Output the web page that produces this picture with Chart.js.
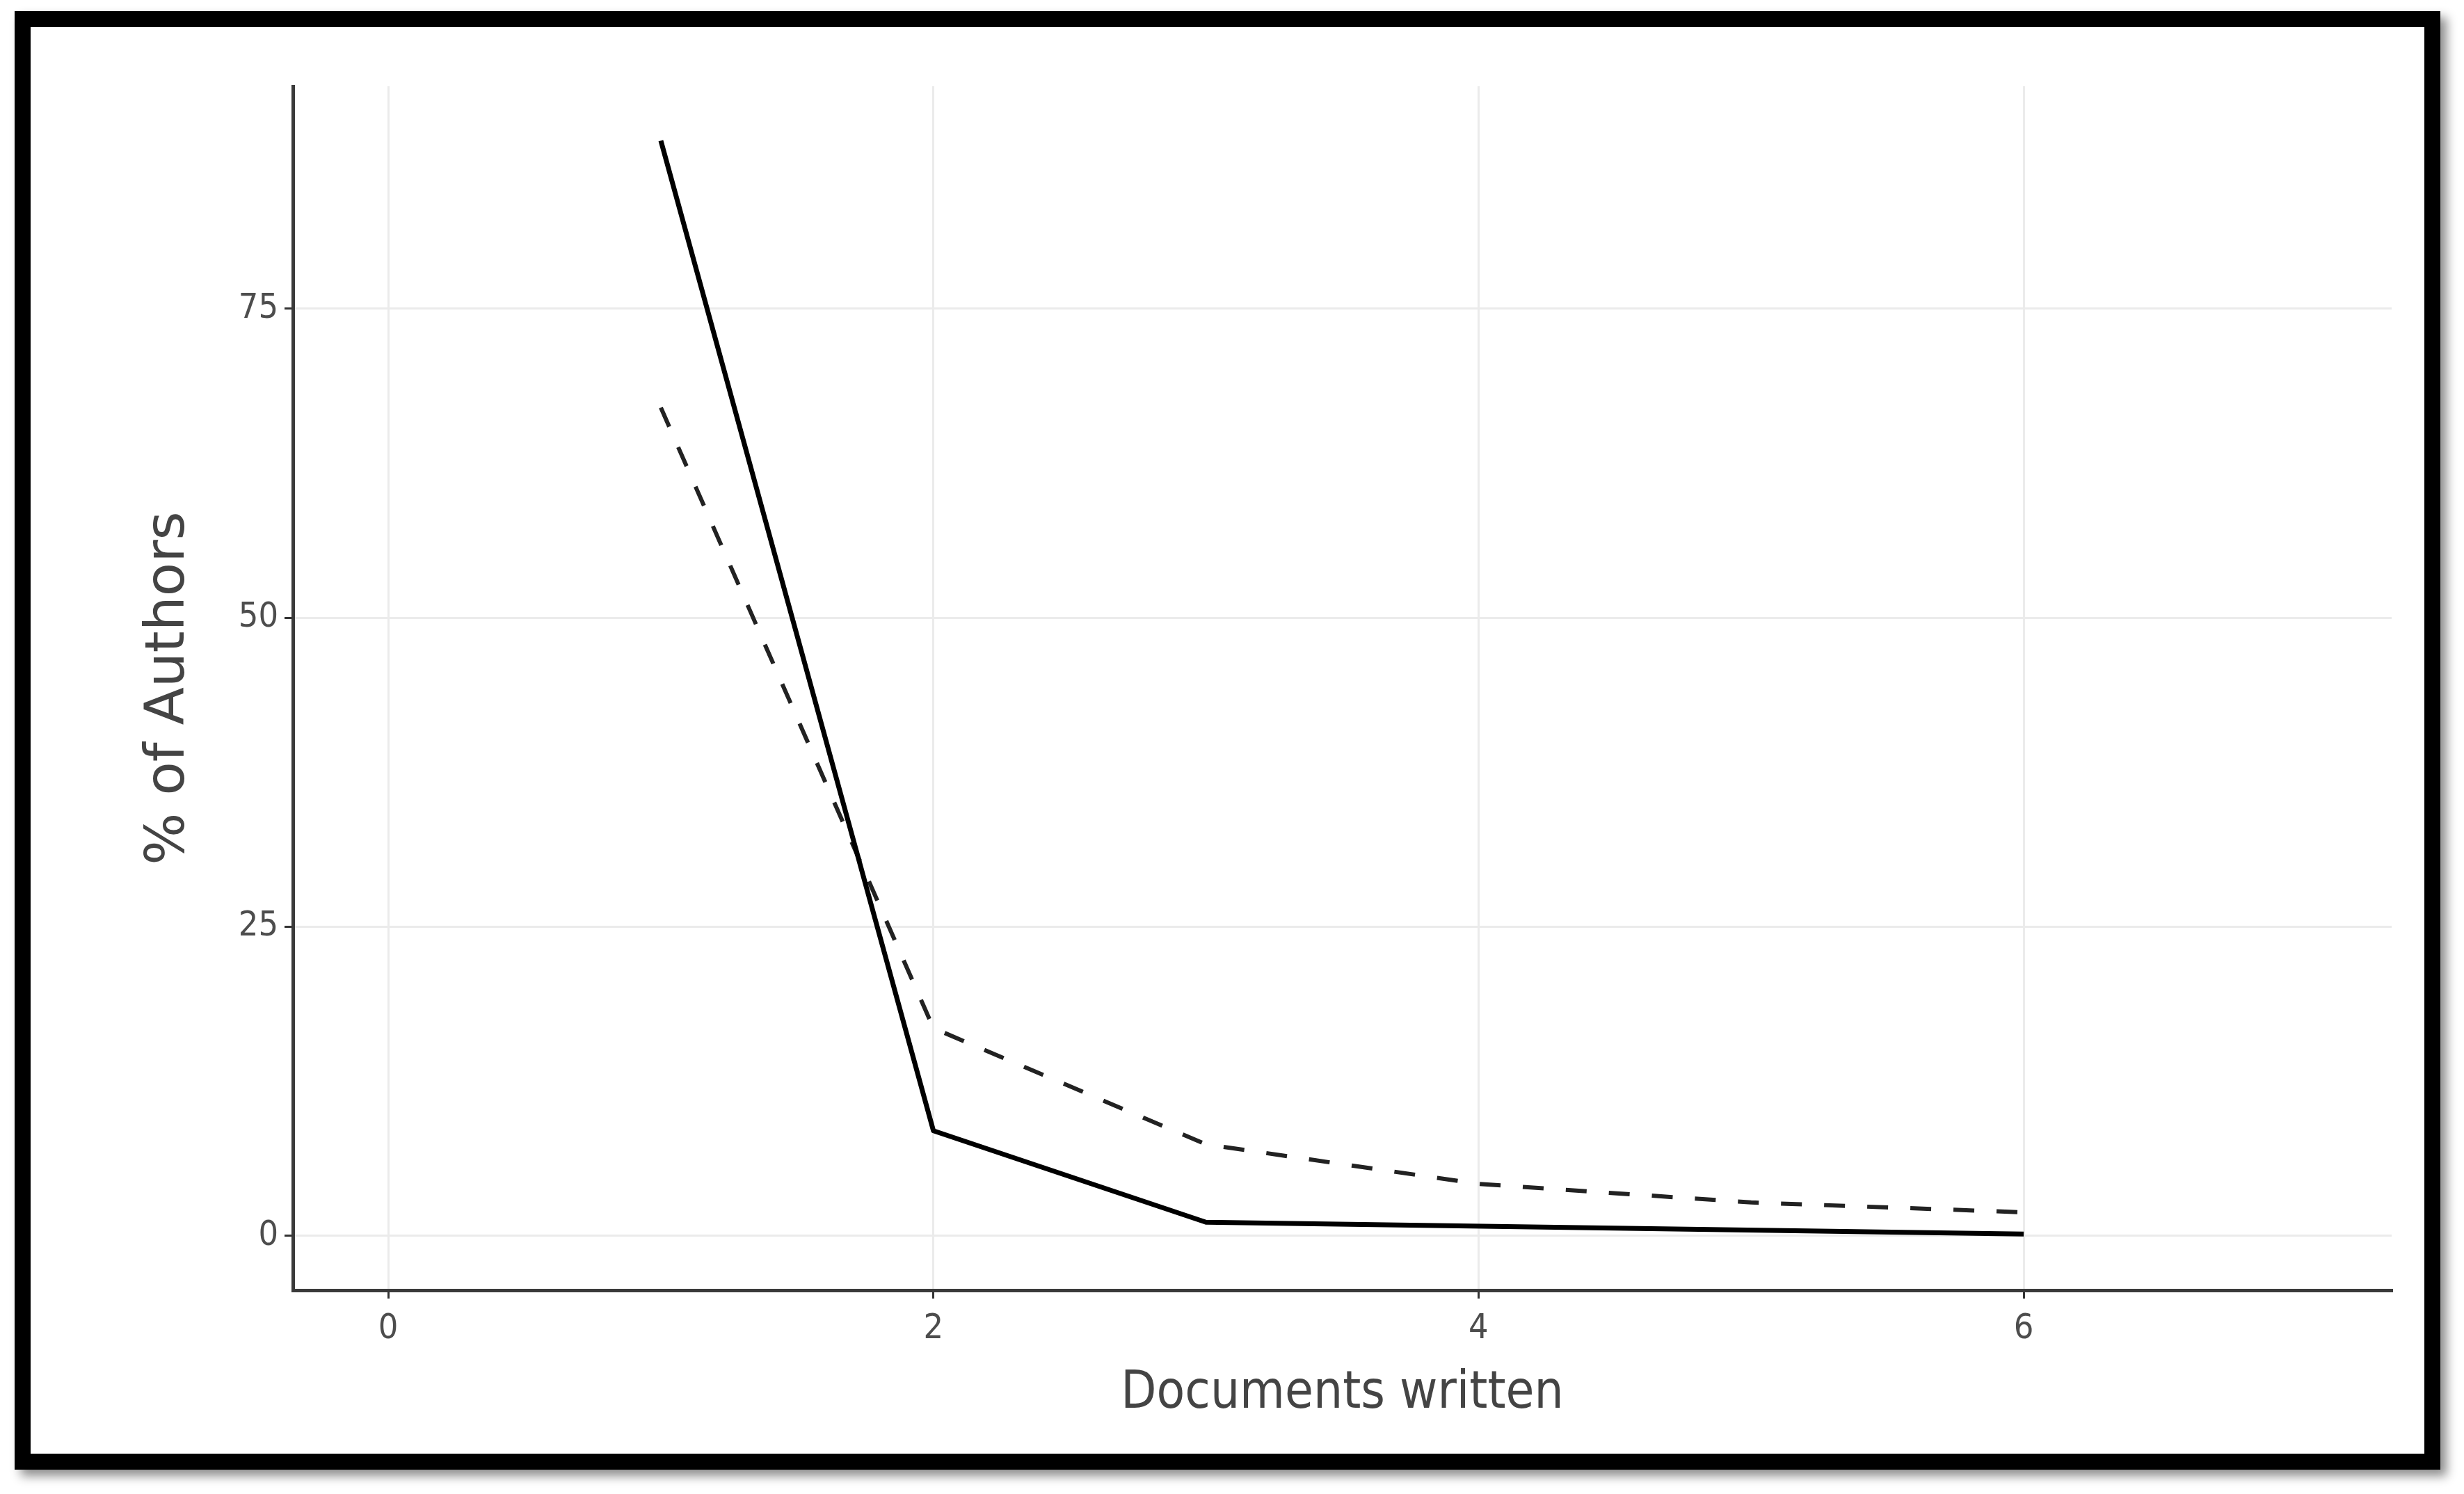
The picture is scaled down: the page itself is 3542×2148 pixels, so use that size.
<!DOCTYPE html>
<html>
<head>
<meta charset="utf-8">
<script src="https://cdn.jsdelivr.net/npm/chart.js@4/dist/chart.umd.min.js"></script>
<style>
html,body{margin:0;padding:0;background:#fff;width:3542px;height:2148px;overflow:hidden;}
#frame{position:absolute;left:21px;top:16px;width:3441px;height:2051px;border:23px solid #000;box-shadow:9px 9px 14px rgba(0,0,0,0.45);background:#fff;}
#wrap{position:absolute;left:0;top:0;width:3542px;height:2148px;}
</style>
</head>
<body>
<div id="frame"></div>
<div id="wrap"><canvas id="c" width="3542" height="2148"></canvas></div>
<script>
// ---- data ----
const observedDocs = [1, 2, 3, 6];
const observedPct = [88.6, 8.5, 1.1, 0.15];
const theoreticalDocs = [1, 2, 3, 4, 5, 6];
const theoreticalPct = [67.0, 16.8, 7.4, 4.2, 2.7, 1.9];
const xTicks = [0, 2, 4, 6];
const yTicks = [0, 25, 50, 75];
const xTitle = 'Documents written';
const yTitle = '% of Authors';

const pts = (xs, ys) => xs.map((x, i) => ({x: x, y: ys[i]}));

new Chart(document.getElementById('c'), {
  type: 'line',
  data: {
    datasets: [
      {
        label: 'Observed',
        data: pts(observedDocs, observedPct),
        borderColor: '#000',
        borderWidth: 7,
        pointRadius: 0,
        tension: 0,
        fill: false,
        borderJoinStyle: 'round'
      },
      {
        label: 'Theoretical',
        data: pts(theoreticalDocs, theoreticalPct),
        borderColor: '#222',
        borderWidth: 6,
        borderDash: [30, 32],
        pointRadius: 0,
        tension: 0,
        fill: false
      }
    ]
  },
  options: {
    responsive: false,
    devicePixelRatio: 1,
    animation: false,
    layout: {padding: {left: 0, top: 124, right: 104, bottom: 0}},
    plugins: {legend: {display: false}, tooltip: {enabled: false}},
    scales: {
      x: {
        type: 'linear',
        min: -0.35,
        max: 7.35,
        afterBuildTicks: s => { s.ticks = xTicks.map(v => ({value: v})); },
        afterFit: s => { s.height = 293; },
        grid: {color: '#ebebeb', lineWidth: 3, tickColor: '#333', tickLength: 12, tickWidth: 3},
        border: {color: '#3a3a3a', width: 5},
        ticks: {font: {family: 'DejaVu Sans Condensed', size: 50}, color: '#4d4d4d', padding: 14, autoSkip: false, maxRotation: 0},
        title: {display: true, text: xTitle, font: {family: 'DejaVu Sans Condensed', size: 74, lineHeight: 1}, color: '#444', padding: {top: 0, bottom: 106}}
      },
      y: {
        type: 'linear',
        min: -4.4,
        max: 93.0,
        afterBuildTicks: s => { s.ticks = yTicks.map(v => ({value: v})); },
        afterFit: s => { s.width = 421; },
        grid: {color: '#ebebeb', lineWidth: 3, tickColor: '#333', tickLength: 12, tickWidth: 3},
        border: {color: '#3a3a3a', width: 5},
        ticks: {font: {family: 'DejaVu Sans Condensed', size: 50}, color: '#4d4d4d', padding: 9, autoSkip: false},
        title: {display: true, text: yTitle, font: {family: 'DejaVu Sans', size: 79, lineHeight: 1}, color: '#444', padding: {top: 204, bottom: 0}}
      }
    }
  }
});
</script>
</body>
</html>
